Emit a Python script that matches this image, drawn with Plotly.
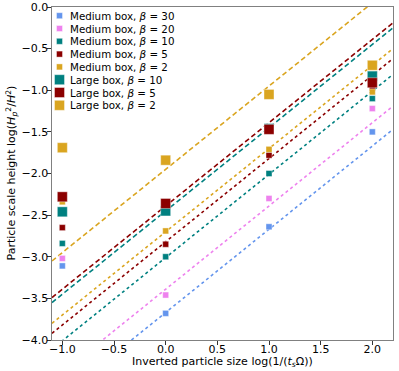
import plotly.graph_objects as go

# log(1/(t_s Omega))
x_vals = [-1.0, 0.0, 1.0, 2.0]

# Medium box
med_b30 = [-3.11, -3.68, -2.64, -1.50]
med_b20 = [-3.02, -3.46, -2.30, -1.22]
med_b10 = [-2.84, -3.00, -2.00, -1.10]
med_b5 = [-2.65, -2.85, -1.78, -0.97]
med_b2 = [-2.34, -2.69, -1.71, -1.02]

# Large box
lrg_b10 = [-2.46, -2.45, -1.46, -0.83]
lrg_b5 = [-2.28, -2.36, -1.47, -0.91]
lrg_b2 = [-1.69, -1.84, -1.05, -0.70]

# fitted lines, slope 1, intercepts
fit_slope = 1.0
fit_med = [-3.67, -3.39, -3.01, -2.82, -2.70]
fit_lrg = [-2.45, -2.39, -1.95]

x_range = [-1.1, 2.2]

BLUE = "#6495ED"
PINK = "#EE82EE"
TEAL = "#008080"
RED = "#8B0000"
GOLD = "#DAA520"

med_series = [
    ("30", med_b30, BLUE),
    ("20", med_b20, PINK),
    ("10", med_b10, TEAL),
    ("5", med_b5, RED),
    ("2", med_b2, GOLD),
]
lrg_series = [
    ("10", lrg_b10, TEAL),
    ("5", lrg_b5, RED),
    ("2", lrg_b2, GOLD),
]

fig = go.Figure()

# fit lines first
for (beta, _, col), b in zip(med_series, fit_med):
    fig.add_trace(go.Scatter(
        x=x_range, y=[fit_slope * xx + b for xx in x_range], mode="lines",
        line=dict(color=col, width=1.6, dash="dot"), showlegend=False, hoverinfo="skip"))
for (beta, _, col), b in zip(lrg_series, fit_lrg):
    fig.add_trace(go.Scatter(
        x=x_range, y=[fit_slope * xx + b for xx in x_range], mode="lines",
        line=dict(color=col, width=1.6, dash="5px,3px"), showlegend=False, hoverinfo="skip"))

small = dict(symbol="square", size=6, line=dict(color="rgba(255,255,255,0.5)", width=0.8))
big = dict(symbol="square", size=10, line=dict(color="rgba(255,255,255,0.5)", width=0.8))

entries = []
for beta, ys, col in med_series:
    fig.add_trace(go.Scatter(x=x_vals, y=ys, mode="markers", showlegend=False,
                             marker=dict(color=col, **small)))
    entries.append((f"Medium box, <i>β</i> = {beta}", col, small))
for beta, ys, col in lrg_series:
    fig.add_trace(go.Scatter(x=x_vals, y=ys, mode="markers", showlegend=False,
                             marker=dict(color=col, **big)))
    entries.append((f"Large box, <i>β</i> = {beta}", col, big))

# hand-made legend (plotly rows are too tall), on an overlay axis in 0..1 units
plot_l, plot_w, plot_t, plot_h = 52, 341, 7, 333
row0, row_step = 15.7, 12.8
for i, (label, col, mk) in enumerate(entries):
    yp = (plot_t + plot_h - (row0 + row_step * i)) / plot_h
    fig.add_trace(go.Scatter(x=[(59.5 - plot_l) / plot_w], y=[yp], mode="markers",
                             xaxis="x2", yaxis="y2", showlegend=False, hoverinfo="skip",
                             marker=dict(color=col, **mk)))
    fig.add_annotation(text=label, xref="paper", yref="paper",
                       x=(68 - plot_l) / plot_w, y=yp, xanchor="left", yanchor="middle",
                       showarrow=False, font=dict(size=10.3, color="black"))

# axis titles as annotations for exact placement
fig.add_annotation(text="Inverted particle size log(1/(<i>t<sub>s</sub></i>Ω))",
                   xref="paper", yref="paper", x=0.5, y=(plot_t + plot_h - 361.5) / plot_h,
                   xanchor="center", yanchor="middle", showarrow=False,
                   font=dict(size=11, color="black"))
fig.add_annotation(text="Particle scale height log(<i>H<sub>p</sub></i><sup>2</sup>/<i>H</i><sup>2</sup>)",
                   xref="paper", yref="paper", x=(11 - plot_l) / plot_w, y=0.5,
                   xanchor="center", yanchor="middle", showarrow=False, textangle=-90,
                   font=dict(size=11, color="black"))

axis_common = dict(
    showgrid=False, zeroline=False, showline=True, linecolor="#808080", linewidth=1.2,
    mirror=True, ticks="outside", ticklen=3.5, tickcolor="#333", tickwidth=1,
    tickfont=dict(size=11, color="black"), automargin=False,
)

fig.update_layout(
    width=399, height=371,
    margin=dict(l=52, r=6, t=7, b=31),
    plot_bgcolor="white", paper_bgcolor="white",
    font=dict(family="DejaVu Sans", color="black"),
    showlegend=False,
    xaxis=dict(range=x_range, tick0=-1.0, dtick=0.5, tickformat=".1f",
               ticklabelstandoff=-5, **axis_common),
    yaxis=dict(range=[-4.0, 0.0], tick0=-4.0, dtick=0.5, tickformat=".1f",
               ticklabelstandoff=-3, **axis_common),
    xaxis2=dict(overlaying="x", range=[0, 1], visible=False, anchor="y2"),
    yaxis2=dict(overlaying="y", range=[0, 1], visible=False, anchor="x2"),
)

# page body has an 8px default margin; drop it so the figure fills the window
fig.write_html("out.html", config={"displayModeBar": False},
               post_script="document.body.style.margin='0px';")
